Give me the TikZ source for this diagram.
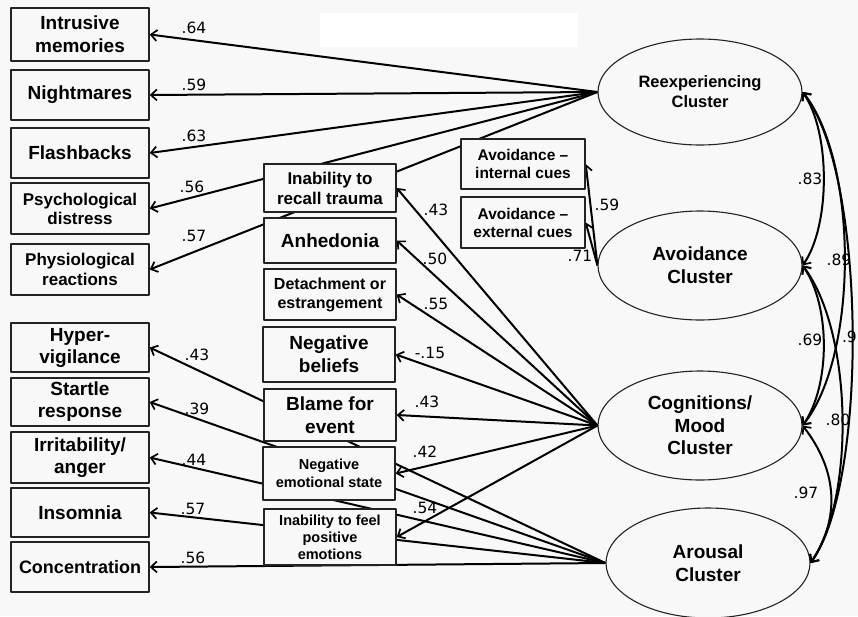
\documentclass[tikz,border=0pt]{standalone}
\usepackage{fontspec}
\setmainfont{Liberation Sans}
\newfontfamily\numfont{DejaVu Sans}
\usetikzlibrary{shapes.geometric,arrows.meta}
\definecolor{bgcol}{RGB}{248,248,248}
\definecolor{edge}{RGB}{35,35,35}
\newcommand{\boxfs}[2]{\fontsize{#1}{#2}\selectfont}
\pgfdeclarelayer{bg}
\pgfdeclarelayer{links}
\pgfsetlayers{bg,links,main}

\begin{document}
\begin{tikzpicture}[x=1pt,y=-1pt,line join=round,line cap=round,
    box/.style={draw=edge,line width=1.4pt,fill=bgcol,inner sep=0pt,align=center,font=\bfseries\boxfs{19}{23}},
    lbox/.style={box,minimum width=138},
    mbox/.style={box,minimum width=132},
    clus/.style={ellipse,draw=edge,line width=1.1pt,fill=bgcol,inner sep=0pt,align=center,
      minimum width=204,minimum height=108,font=\bfseries\boxfs{19}{23}},
    arr/.style={line width=2pt,-{Straight Barb[length=6pt,width=11pt,line width=1.7pt]}},
    corr/.style={line width=2pt,{Straight Barb[length=6pt,width=11pt,line width=1.7pt]}-{Straight Barb[length=6pt,width=11pt,line width=1.7pt]}},
    lab/.style={font=\numfont\boxfs{15.5}{18},inner sep=0pt}]
  \useasboundingbox (0,0) rectangle (858,616);
  \begin{pgfonlayer}{bg}
    \fill[bgcol] (0,0) rectangle (858,616);
    \fill[white] (320,13) rectangle (578,47);
  \end{pgfonlayer}

  % indicators, left column
  \node[lbox,minimum height=53] (intr) at (80,34.5) {Intrusive\\memories};
  \node[lbox,minimum height=50] (night) at (80,95) {Nightmares};
  \node[lbox,minimum height=50] (flash) at (80,153) {Flashbacks};
  \node[lbox,minimum height=51,font=\bfseries\boxfs{17}{19}] (psych) at (80,208.5) {Psychological\\distress};
  \node[lbox,minimum height=51,font=\bfseries\boxfs{17}{20}] (phys) at (80,269.5) {Physiological\\reactions};
  \node[lbox,minimum height=49,font=\bfseries\boxfs{19}{22}] (hyper) at (80,347.5) {Hyper-\\vigilance};
  \node[lbox,minimum height=48,font=\bfseries\boxfs{19}{22}] (startle) at (80,402) {Startle\\response};
  \node[lbox,minimum height=51,font=\bfseries\boxfs{19}{22}] (irrit) at (80,457.5) {Irritability/\\anger};
  \node[lbox,minimum height=49] (insom) at (80,512.5) {Insomnia};
  \node[lbox,minimum height=50,font=\bfseries\boxfs{18}{22}] (conc) at (80,567) {Concentration};

  % indicators, middle column
  \node[mbox,minimum height=48,font=\bfseries\boxfs{17}{20}] (recall) at (330,188) {Inability to\\recall trauma};
  \node[mbox,minimum height=45] (anhed) at (330,240.5) {Anhedonia};
  \node[mbox,minimum height=51,font=\bfseries\boxfs{16}{19}] (detach) at (330,294.5) {Detachment or\\estrangement};
  \node[mbox,minimum height=55,font=\bfseries\boxfs{19}{23}] (belief) at (329,354.5) {Negative\\beliefs};
  \node[mbox,minimum height=52,font=\bfseries\boxfs{19}{23}] (blame) at (330,415) {Blame for\\event};
  \node[mbox,minimum height=53,font=\bfseries\boxfs{14.5}{17.5}] (negemo) at (329,473.5) {Negative\\emotional state};
  \node[mbox,minimum height=56,font=\bfseries\boxfs{14.5}{17}] (feel) at (330,537) {Inability to feel\\positive\\emotions};
  \node[box,minimum width=124,minimum height=50,font=\bfseries\boxfs{15.5}{18}] (avint) at (523,164) {Avoidance --\\internal cues};
  \node[box,minimum width=124,minimum height=51,font=\bfseries\boxfs{15.5}{18}] (avext) at (523,222.5) {Avoidance --\\external cues};

  % clusters
  \node[clus,minimum height=106,font=\bfseries\boxfs{16.5}{20}] (reexp) at (700,92) {Reexperiencing\\Cluster};
  \node[clus,minimum height=109] (avoid) at (700,265.5) {Avoidance\\Cluster};
  \node[clus,minimum height=109,font=\bfseries\boxfs{19}{22.5}] (cog) at (700,425.5) {Cognitions/\\Mood\\Cluster};
  \node[clus,minimum height=110] (arou) at (708,563) {Arousal\\Cluster};

  % loadings
  \begin{pgfonlayer}{links}
    \foreach \t in {intr,night,flash,psych,phys} \draw[arr] (reexp.west) -- (\t.east);
    \foreach \t in {avint,avext} \draw[arr] (avoid.west) -- (\t.east);
    \foreach \t in {recall,anhed,detach,belief,blame,negemo,feel} \draw[arr] (cog.west) -- (\t.east);
    \foreach \t in {hyper,startle,irrit,insom,conc} \draw[arr] (arou.west) -- (\t.east);
  \end{pgfonlayer}

  % correlations
  \draw[corr] (reexp.east) .. controls +(28,40) and +(28,-40) .. (avoid.east);
  \draw[corr] (reexp.east) .. controls +(56,70) and +(56,-70) .. (cog.east);
  \draw[corr] (reexp.east) .. controls +(64,80) and +(58,-80) .. (arou.east);
  \draw[corr] (avoid.east) .. controls +(28,40) and +(28,-40) .. (cog.east);
  \draw[corr] (avoid.east) .. controls +(50,65) and +(45,-65) .. (arou.east);
  \draw[corr] (cog.east) .. controls +(35,45) and +(30,-45) .. (arou.east);

  \node[lab] (l64) at (194,28) {.64};
  \node[lab] (l59) at (194,85) {.59};
  \node[lab] (l63) at (194,136) {.63};
  \node[lab] (l56a) at (192,187) {.56};
  \node[lab] (l57a) at (194,236) {.57};
  \node[lab] (l43a) at (197,355) {.43};
  \node[lab] (l39) at (197,409) {.39};
  \node[lab] (l44) at (194,460) {.44};
  \node[lab] (l57b) at (193,509) {.57};
  \node[lab] (l56b) at (193,558) {.56};
  \node[lab] (l43b) at (436,210) {.43};
  \node[lab] (l50) at (435,259) {.50};
  \node[lab] (l55) at (436,304) {.55};
  \node[lab] (l15) at (430,353) {-.15};
  \node[lab] (l43c) at (427,402) {.43};
  \node[lab] (l42) at (425,452) {.42};
  \node[lab] (l54) at (425,508) {.54};
  \node[lab] (l59b) at (607,205) {.59};
  \node[lab] (l71) at (580,256) {.71};
  \node[lab] (l83) at (810,179) {.83};
  \node[lab] (l89) at (839,260) {.89};
  \node[lab] (l69) at (810,340) {.69};
  \node[lab] (l80) at (838,420) {.80};
  \node[lab] (l97) at (806,493) {.97};
  \node[lab,anchor=east] (l9) at (857,337) {.9};
\end{tikzpicture}
\end{document}
